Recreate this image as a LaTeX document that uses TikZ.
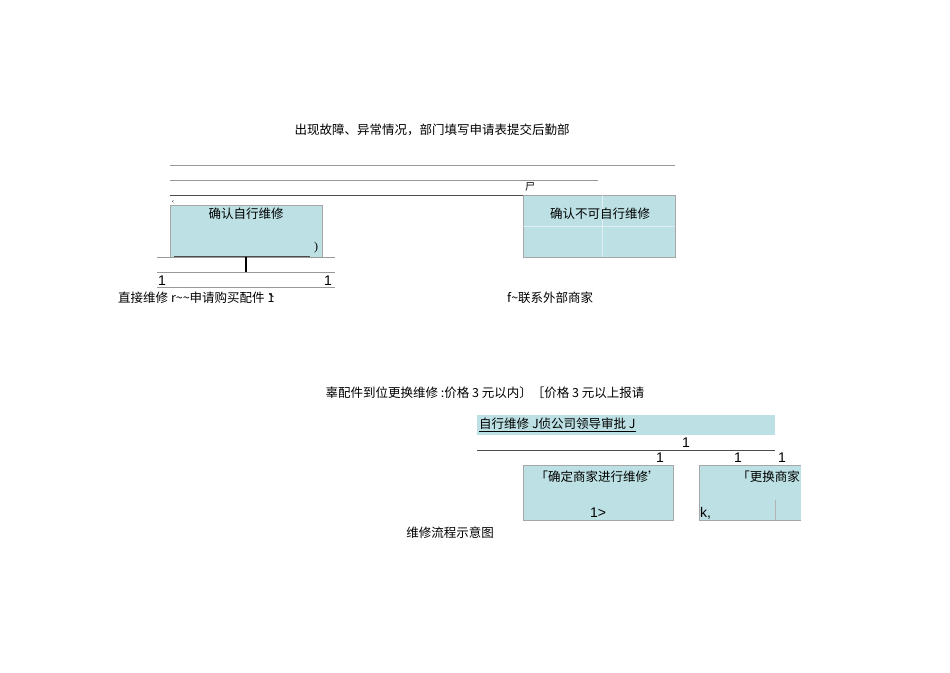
\documentclass[tikz,border=0pt]{standalone}
\usepackage{fontspec}
\setmainfont{Liberation Serif}
\newfontfamily\cjk{Noto Sans CJK SC}
\newfontfamily\lat{Liberation Sans}
\definecolor{boxfill}{HTML}{BCE0E3}
\begin{document}
\begin{tikzpicture}[x=1pt,y=-1pt,
  txt/.style={inner sep=0pt,font=\cjk\fontsize{12.5}{14}\selectfont},
  num/.style={inner sep=0pt,font=\lat\fontsize{14}{14}\selectfont},
  bx/.style={draw=gray!70,fill=boxfill,line width=0.5pt},
  rule/.style={draw=gray!80,line width=0.6pt}]
\useasboundingbox (0,0) rectangle (950,672);
\node[txt] (t1) at (432,130) {出现故障、异常情况，部门填写申请表提交后勤部};
\coordinate (l1a) at (170,165); \coordinate (l1b) at (675,165);
\coordinate (l2a) at (170,180); \coordinate (l2b) at (598,180);
\coordinate (l3a) at (170,195); \coordinate (l3b) at (675,195);
\draw[rule] (l1a)--(l1b); \draw[rule] (l2a)--(l2b); \draw[gray!60!black,line width=0.6pt] (l3a)--(l3b);
\node[txt,font=\cjk\fontsize{10}{10}\selectfont] (s1) at (530,187) {尸};
\node[inner sep=0pt,font=\itshape\fontsize{10}{10}\selectfont] (s2) at (527,200) {f};
\node[inner sep=0pt,font=\fontsize{7}{7}\selectfont] (s3) at (173,202) {‹};
\node[bx,minimum width=152,minimum height=52,anchor=north west] (b1) at (170,205) {};
\node[txt] at (246,214) {确认自行维修};
\node[inner sep=0pt,font=\fontsize{12}{12}\selectfont] at (316,248) {)};
\coordinate (u1a) at (174,256); \coordinate (u1b) at (310,256);
\draw[gray!60!black,line width=0.4pt] (u1a)--(u1b);
\coordinate (h1a) at (157,257); \coordinate (h1b) at (335,257);
\coordinate (h2a) at (157,272); \coordinate (h2b) at (335,272);
\coordinate (h3a) at (157,287); \coordinate (h3b) at (335,287);
\draw[rule] (h1a)--(h1b); \draw[rule] (h2a)--(h2b); \draw[rule] (h3a)--(h3b);
\coordinate (v1a) at (246,257); \coordinate (v1b) at (246,272);
\draw[line width=2.2pt] (v1a)--(v1b);
\node[num] at (162,281) {1}; \node[num] at (328,281) {1};
\node[txt,anchor=west] (t2) at (118,298) {直接维修 r\textasciitilde\textasciitilde 申请购买配件\`{}1};
\node[bx,minimum width=152,minimum height=62,anchor=north west] (b2) at (523,195) {};
\draw[white,opacity=0.5] (602,195)--(602,257);
\draw[white,opacity=0.5] (523,226)--(675,226);
\node[txt] at (600,214) {确认不可自行维修};
\node[txt,anchor=west] (t3) at (507,298) {f\textasciitilde 联系外部商家};
\node[txt] (t4) at (485,393) {辜配件到位更换维修 :价格 3 元以内〕［价格 3 元以上报请};
\node[bx,draw=none,minimum width=298,minimum height=20,anchor=north west] (b3) at (477,415) {};
\node[txt,anchor=west] at (479,425) {\underline{自行维修 J侦公司领导审批 J}};
\coordinate (h4a) at (477,450); \coordinate (h4b) at (775,450);
\draw[gray!60!black,line width=0.5pt] (h4a)--(h4b);
\node[num] at (686,443) {1};
\node[num] at (660,458) {1}; \node[num] at (738,458) {1}; \node[num] at (782,458) {1};
\node[bx,minimum width=150,minimum height=55,anchor=north west] (b4) at (523,465) {};
\node[txt] at (598,477) {「确定商家进行维修’};
\node[num] at (598,513) {1>};
\node[bx,minimum width=101,minimum height=55,anchor=north west] (b5) at (699,465) {};
\draw[bx,draw=boxfill] (795,466) rectangle (800,519);
\node[txt,anchor=east] at (800,477) {「更换商家};
\node[num,anchor=west] at (700,513) {k,};
\draw[gray!60] (775,500)--(775,520);
\node[txt] (t5) at (450,533) {维修流程示意图};
\end{tikzpicture}
\end{document}
